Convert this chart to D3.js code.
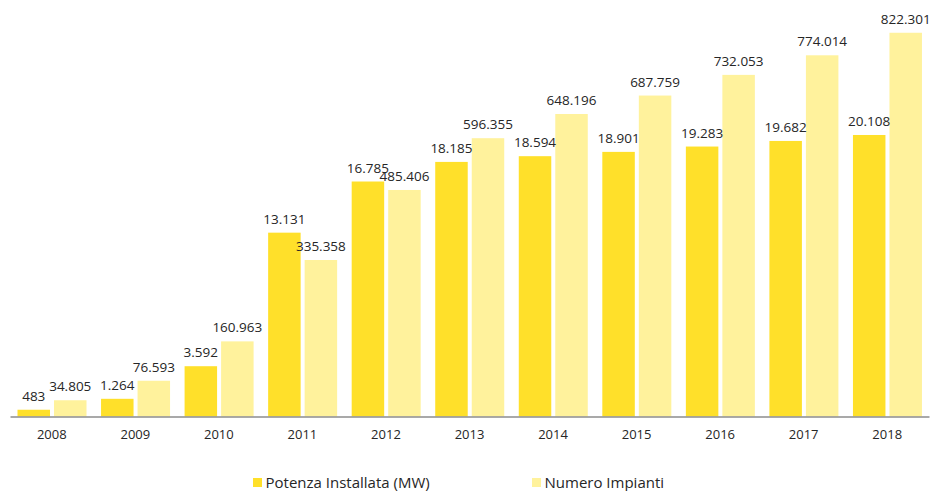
<!DOCTYPE html>
<html>
<head>
<meta charset="utf-8">
<script src="https://cdn.jsdelivr.net/npm/d3@7"></script>
<style>
  body { margin: 0; background: #fff; }
  text { font-family: "Open Sans", "Noto Sans", sans-serif; fill: #262626; }
</style>
</head>
<body>
<script>

// data
var years = ["2008","2009","2010","2011","2012","2013","2014","2015","2016","2017","2018"];
var potenza = [483, 1264, 3592, 13131, 16785, 18185, 18594, 18901, 19283, 19682, 20108];
var impianti = [34805, 76593, 160963, 335358, 485406, 596355, 648196, 687759, 732053, 774014, 822301];
var seriesNames = ["Potenza Installata (MW)", "Numero Impianti"];

var width = 942, height = 491;
var baseY = 416.5;

var svg = d3.select("body").append("svg")
    .attr("width", width)
    .attr("height", height);

var x = d3.scaleBand()
    .domain(years)
    .range([10, 929]);

var xInner = d3.scaleBand()
    .domain(["p", "n"])
    .range([7.5, 76.5])
    .paddingInner(0.11);

// two separate scales, one per series
var yP = d3.scaleLinear().domain([0, 30000]).range([baseY, baseY - 420]);
var yN = d3.scaleLinear().domain([0, 900000]).range([baseY, baseY - 420]);

var colors = d3.scaleOrdinal()
    .domain(seriesNames)
    .range(["#ffe02a", "#fff29c"]);

var it = d3.formatLocale({decimal: ",", thousands: ".", grouping: [3], currency: ["", "€"]});
var fmt = it.format(",d");

var rows = years.map(function(d, i) {
  return {year: d, p: potenza[i], n: impianti[i]};
});

var groups = svg.selectAll(".grp")
    .data(rows)
    .enter()
    .append("g")
    .attr("class", "grp")
    .attr("transform", function(d) { return "translate(" + x(d.year) + ",0)"; });

// potenza bars
groups.append("rect")
    .attr("x", xInner("p"))
    .attr("width", xInner.bandwidth())
    .attr("y", function(d) { return yP(d.p); })
    .attr("height", function(d) { return baseY - yP(d.p); })
    .style("fill", colors(seriesNames[0]));

// impianti bars
groups.append("rect")
    .attr("x", xInner("n"))
    .attr("width", xInner.bandwidth())
    .attr("y", function(d) { return yN(d.n); })
    .attr("height", function(d) { return baseY - yN(d.n); })
    .style("fill", colors(seriesNames[1]));

// value labels
groups.append("text")
    .attr("x", xInner("p") + xInner.bandwidth() / 2)
    .attr("y", function(d) { return yP(d.p) - 9; })
    .attr("text-anchor", "middle")
    .style("font-size", "13.5px")
    .text(function(d) { return fmt(d.p); });

groups.append("text")
    .attr("x", xInner("n") + xInner.bandwidth() / 2)
    .attr("y", function(d) { return yN(d.n) - 9; })
    .attr("text-anchor", "middle")
    .style("font-size", "13.5px")
    .text(function(d) { return fmt(d.n); });

// x axis
var xAxis = svg.append("g")
    .attr("transform", "translate(0," + baseY + ")")
    .call(d3.axisBottom(x).tickSize(0).tickPadding(13));

xAxis.select(".domain")
    .attr("stroke", "#8c8c8c")
    .attr("stroke-width", 1.5);

xAxis.selectAll("text")
    .style("font-size", "13px")
    .style("font-family", "'Open Sans', 'Noto Sans', sans-serif")
    .attr("fill", "#262626");

// legend
var legendPos = [253, 532];
var legend = svg.append("g")
    .selectAll("g")
    .data(colors.domain())
    .enter()
    .append("g")
    .attr("transform", function(d, i) { return "translate(" + legendPos[i] + ",478)"; });

legend.append("rect")
    .attr("width", 9)
    .attr("height", 9)
    .style("fill", colors);

legend.append("text")
    .attr("x", 12.5)
    .attr("y", 9.5)
    .style("font-size", "15px")
    .text(function(d) { return d; });

</script>
</body>
</html>
